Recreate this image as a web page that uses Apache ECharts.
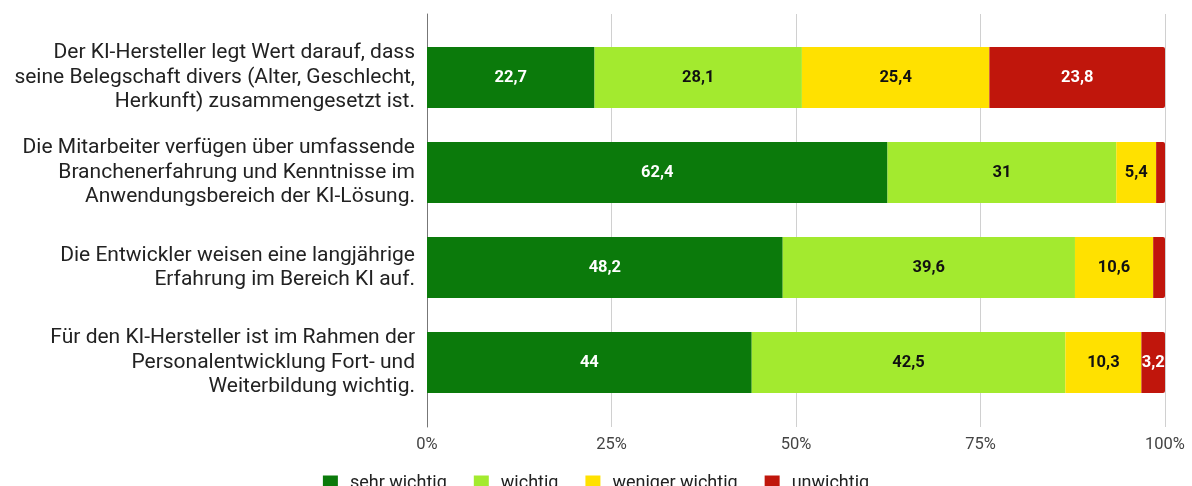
<!DOCTYPE html>
<html>
<head>
<meta charset="utf-8">
<script src="https://cdn.jsdelivr.net/npm/echarts@6/dist/echarts.min.js"></script>
<style>
  html, body { margin: 0; padding: 0; background: #fff; }
  #chart { width: 1192px; height: 486px; }
</style>
</head>
<body>
<div id="chart"></div>
<script>
// Kategorien (von oben nach unten)
var categories = [
  'Der KI-Hersteller legt Wert darauf, dass\nseine Belegschaft divers (Alter, Geschlecht,\nHerkunft) zusammengesetzt ist.',
  'Die Mitarbeiter verfügen über umfassende\nBranchenerfahrung und Kenntnisse im\nAnwendungsbereich der KI-Lösung.',
  'Die Entwickler weisen eine langjährige\nErfahrung im Bereich KI auf.',
  'Für den KI-Hersteller ist im Rahmen der\nPersonalentwicklung Fort- und\nWeiterbildung wichtig.'
];
// Anteile in Prozent
var sehrWichtig = [22.7, 62.4, 48.2, 44];
var wichtig = [28.1, 31, 39.6, 42.5];
var wenigerWichtig = [25.4, 5.4, 10.6, 10.3];
var unwichtig = [23.8, 1.2, 1.6, 3.2];
var seriesNames = ['sehr wichtig', 'wichtig', 'weniger wichtig', 'unwichtig'];
var xTicks = [0, 25, 50, 75, 100];

var colors = ['#0b7a0b', '#a3ea2f', '#ffe100', '#c0160c'];
var labelColors = ['#fff', '#111', '#111', '#fff'];
var FONT = 'Roboto, "Noto Sans", sans-serif';

// Werte mit Komma, sehr kleine Segmente ohne Beschriftung
function fmt(p) {
  if (p.value < 2) return '';
  return String(p.value).replace('.', ',');
}

function makeSeries(idx, data) {
  return {
    name: seriesNames[idx],
    type: 'bar',
    stack: 'total',
    xAxisIndex: 1,
    yAxisIndex: 1,
    barCategoryGap: '36%',
    data: data,
    itemStyle: {
      color: colors[idx],
      borderRadius: idx === 3 ? [0, 2, 2, 0] : 0
    },
    label: {
      show: true,
      position: 'inside',
      formatter: fmt,
      color: labelColors[idx],
      fontFamily: FONT,
      fontWeight: 'bold',
      fontSize: 16.5
    },
    emphasis: { disabled: true }
  };
}

var chart = echarts.init(document.getElementById('chart'));
chart.setOption({
  animation: false,
  color: colors,
  grid: [
    { left: 427, right: 27, top: 14, bottom: 59 },
    { left: 427, right: 27, top: 30, bottom: 76 }
  ],
  legend: {
    top: 469,
    left: 'center',
    itemWidth: 15,
    itemHeight: 15,
    itemGap: 27,
    icon: 'rect',
    textStyle: { fontFamily: FONT, fontSize: 18, color: '#222', padding: [0, 0, 0, 7] },
    data: seriesNames
  },
  xAxis: [
    {
      gridIndex: 0,
      type: 'value',
      min: 0,
      max: 100,
      interval: 25,
      axisLine: { show: false },
      axisTick: { show: false },
      axisLabel: {
        formatter: '{value}%',
        margin: 9,
        color: '#444',
        fontFamily: FONT,
        fontSize: 16.5,
        customValues: xTicks
      },
      splitLine: { show: true, lineStyle: { color: '#d0d0d0', width: 1 } }
    },
    {
      gridIndex: 1,
      type: 'value',
      min: 0,
      max: 100,
      show: false
    }
  ],
  yAxis: [
    {
      gridIndex: 0,
      type: 'value',
      axisLine: { show: true, lineStyle: { color: '#777', width: 1 } },
      axisTick: { show: false },
      axisLabel: { show: false },
      splitLine: { show: false }
    },
    {
      gridIndex: 1,
      type: 'category',
      inverse: true,
      data: categories,
      axisLine: { show: false },
      axisTick: { show: false },
      axisLabel: {
        margin: 12,
        color: '#222',
        fontFamily: FONT,
        fontSize: 21,
        lineHeight: 24.5,
        align: 'right'
      }
    }
  ],
  series: [
    makeSeries(0, sehrWichtig),
    makeSeries(1, wichtig),
    makeSeries(2, wenigerWichtig),
    makeSeries(3, unwichtig)
  ]
});
</script>
</body>
</html>
